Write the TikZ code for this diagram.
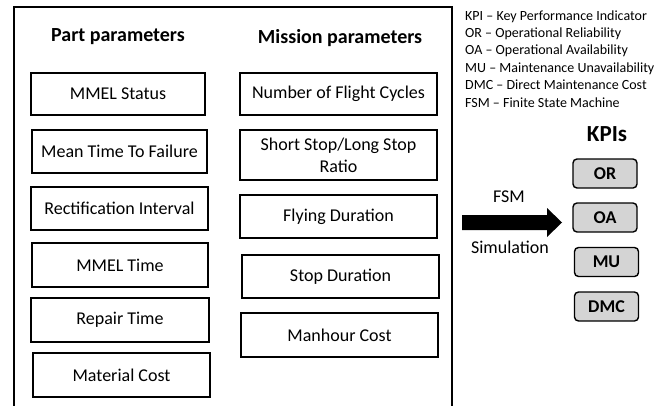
\documentclass[tikz,border=0pt]{standalone}
\usepackage{fontspec}
\setmainfont{Carlito}
\begin{document}
\begin{tikzpicture}[x=1pt,y=-1pt,
  pbox/.style={draw, line width=1.4pt, inner sep=0pt, align=center, font=\fontsize{18}{22}\selectfont},
  kbox/.style={draw, rounded corners=4pt, fill=black!17, line width=1.4pt, inner sep=0pt,
    minimum width=64pt, minimum height=29pt, font=\fontsize{18}{22}\selectfont\bfseries},
  head/.style={inner sep=0pt, font=\fontsize{20}{24}\selectfont\bfseries},
  legend/.style={inner sep=0pt, anchor=base west, font=\fontsize{14}{17}\selectfont},
  lbl/.style={inner sep=0pt, font=\fontsize{18}{22}\selectfont}]
\useasboundingbox (0,0) rectangle (672,405);
% outer frame
\coordinate (fbl) at (14,410);
\coordinate (ftl) at (14,7);
\coordinate (ftr) at (452,7);
\coordinate (fbr) at (452,410);
\draw[line width=1.2pt] (fbl) -- (ftl) -- (ftr) -- (fbr);
% headings
\node[head] (hpart) at (118,37) {Part parameters};
\node[head] (hmis) at (340,38) {Mission parameters};
% part parameters
\node[pbox, minimum width=174pt, minimum height=42pt] (p1) at (118,94) {MMEL Status};
\node[pbox, minimum width=175pt, minimum height=43pt] (p2) at (119.5,151.5) {Mean Time To Failure};
\node[pbox, minimum width=177pt, minimum height=43pt] (p3) at (119.5,208.5) {Rectification Interval};
\node[pbox, minimum width=176pt, minimum height=44pt] (p4) at (120,265) {MMEL Time};
\node[pbox, minimum width=178pt, minimum height=44pt] (p5) at (120,320) {Repair Time};
\node[pbox, minimum width=177pt, minimum height=44pt] (p6) at (121.5,375) {Material Cost};
% mission parameters
\node[pbox, minimum width=197pt, minimum height=42pt] (m1) at (338.5,94) {Number of Flight Cycles};
\node[pbox, minimum width=197pt, minimum height=50pt] (m2) at (338.5,155) {Short Stop/Long Stop\\Ratio};
\node[pbox, minimum width=197pt, minimum height=43pt] (m3) at (338.5,216.5) {Flying Duration};
\node[pbox, minimum width=197pt, minimum height=43pt] (m4) at (340.5,276.5) {Stop Duration};
\node[pbox, minimum width=197pt, minimum height=44pt] (m5) at (339.5,335) {Manhour Cost};
% legend
\node[legend] (l1) at (465,20) {KPI – Key Performance Indicator};
\node[legend] (l2) at (465,37.4) {OR – Operational Reliability};
\node[legend] (l3) at (465,54.8) {OA – Operational Availability};
\node[legend] (l4) at (465,72.2) {MU – Maintenance Unavailability};
\node[legend] (l5) at (465,89.6) {DMC – Direct Maintenance Cost};
\node[legend] (l6) at (465,107) {FSM – Finite State Machine};
% KPIs
\node[inner sep=0pt, font=\fontsize{23}{27}\selectfont\bfseries] (hkpi) at (607,134) {KPIs};
\node[kbox] (k1) at (605,173.5) {OR};
\node[kbox] (k2) at (605,217.5) {OA};
\node[kbox] (k3) at (606.5,262) {MU};
\node[kbox] (k4) at (606.5,306.5) {DMC};
% block arrow
\fill[black] (462,215) -- (547,215) -- (547,208) -- (562,222.5) -- (547,237)
  -- (547,230) -- (462,230) -- cycle;
\node[lbl] (fsm) at (509,197) {FSM};
\node[lbl] (sim) at (510,247) {Simulation};
\end{tikzpicture}
\end{document}
